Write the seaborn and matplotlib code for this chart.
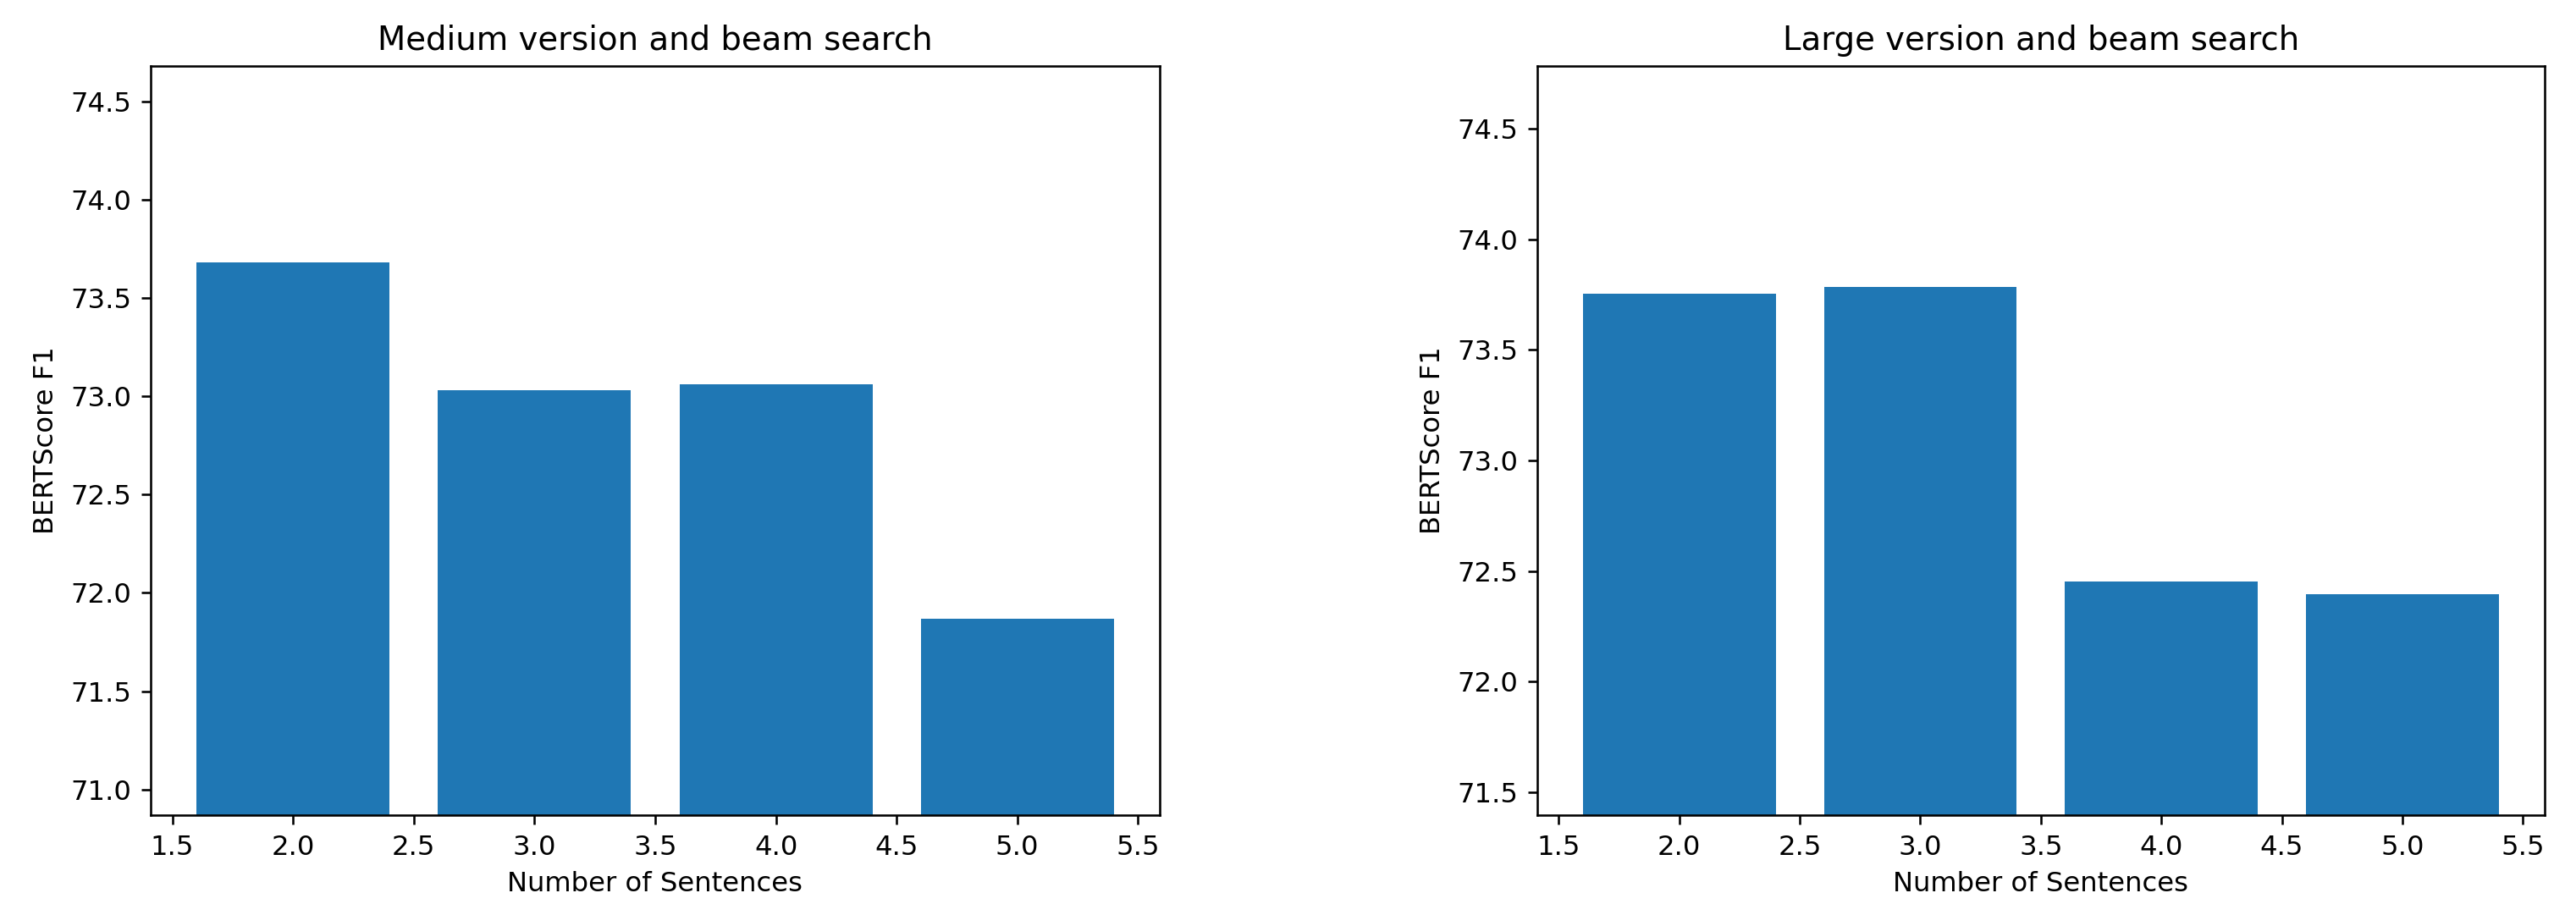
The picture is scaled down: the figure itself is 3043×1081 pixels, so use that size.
import matplotlib
matplotlib.use("Agg")
import matplotlib.pyplot as plt
import seaborn as sns
import pandas as pd

# number of sentences in the summary
sentences = [2, 3, 4, 5]
# BERTScore F1 for each model size (beam search decoding)
medium_f1 = [73.68, 73.03, 73.06, 71.87]
large_f1 = [73.754, 73.784, 72.452, 72.397]

panels = [
    ("Medium version and beam search", medium_f1),
    ("Large version and beam search", large_f1),
]

plt.rcParams["font.family"] = ["DejaVu Sans"]
plt.rcParams["font.size"] = 10

DPI = 232
fig = plt.figure(figsize=(3043 / DPI, 1081 / DPI), dpi=DPI)
axes = [
    fig.add_axes([0.0585, 0.1092, 0.3917, 0.8187]),
    fig.add_axes([0.5967, 0.1092, 0.3911, 0.8187]),
]

for ax, (title, scores) in zip(axes, panels):
    df = pd.DataFrame({"n": sentences, "f1": scores})
    sns.barplot(data=df, x="n", y="f1", ax=ax, native_scale=True,
                width=0.8, color="#1f77b4", saturation=1,
                errorbar=None, linewidth=0)
    ax.margins(x=0.05)
    ax.set_xticks([1.5, 2.0, 2.5, 3.0, 3.5, 4.0, 4.5, 5.0, 5.5])
    # y range: one point either side of the data
    ax.set_ylim(min(scores) - 1, max(scores) + 1)
    ax.set_title(title, fontsize=12)
    ax.set_xlabel("Number of Sentences")
    ax.set_ylabel("BERTScore F1")

fig.savefig("out.png", dpi=DPI)
